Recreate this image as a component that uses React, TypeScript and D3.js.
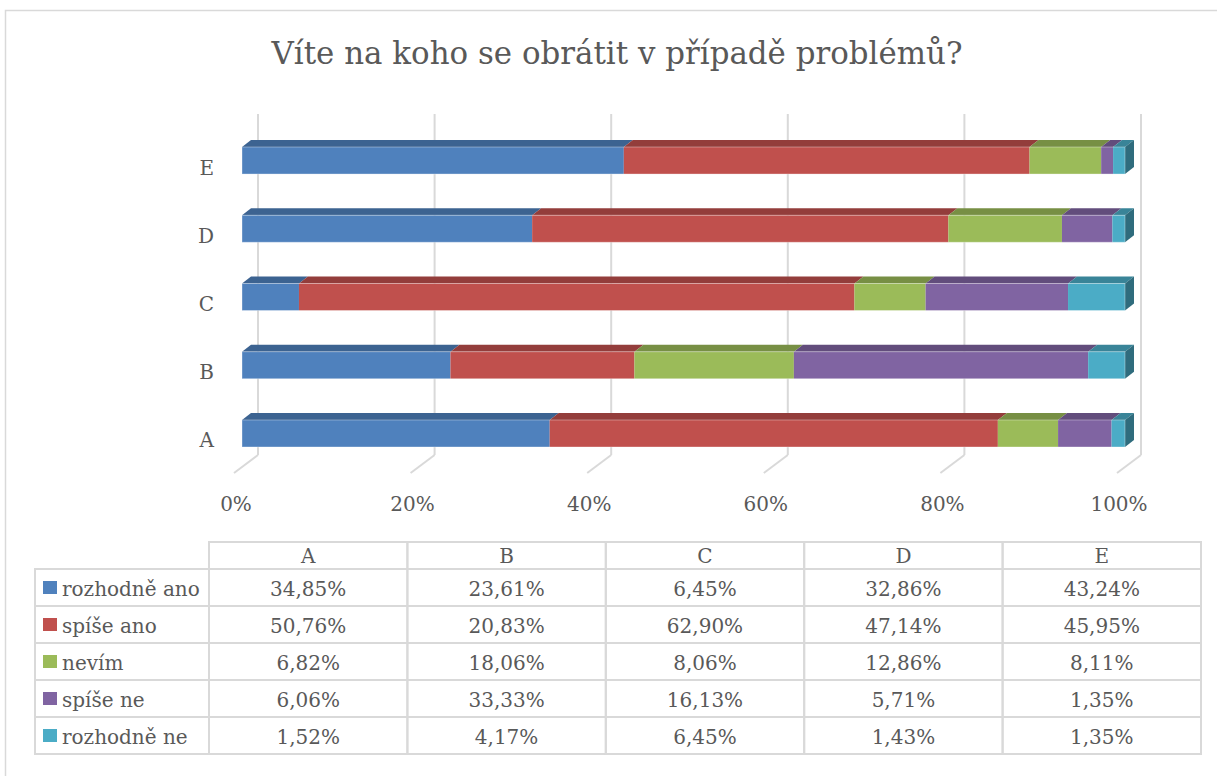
import React from "react"
import * as d3 from "d3"

const title = "Víte na koho se obrátit v případě problémů?"
const categories = ["A", "B", "C", "D", "E"]
const seriesNames = ["rozhodně ano", "spíše ano", "nevím", "spíše ne", "rozhodně ne"]
const seriesColors = ["#4F81BD", "#C0504D", "#9BBB59", "#8064A2", "#4BACC6"]
const rozhodneAno = [34.85, 23.61, 6.45, 32.86, 43.24]
const spiseAno = [50.76, 20.83, 62.9, 47.14, 45.95]
const nevim = [6.82, 18.06, 8.06, 12.86, 8.11]
const spiseNe = [6.06, 33.33, 16.13, 5.71, 1.35]
const rozhodneNe = [1.52, 4.17, 6.45, 1.43, 1.35]
const xTicks = [0, 0.2, 0.4, 0.6, 0.8, 1]

const seriesValues = [rozhodneAno, spiseAno, nevim, spiseNe, rozhodneNe]

const W = 1217
const H = 776
const FONT = "'DejaVu Serif', 'Liberation Serif', serif"
const TEXT = "#595959"
const GRID = "#D9D9D9"

// 3d offsets (bar depth and wall depth)
const barDx = 9
const barDy = -7
const wallDx = 16
const floorDx = -24
const floorDy = 18

const fmt = (v: number) => v.toFixed(2).replace(".", ",") + "%"

const App = () => {
  const rows = categories.map((c, i) => {
    const r: any = { cat: c }
    seriesNames.forEach((s, j) => (r[s] = seriesValues[j][i]))
    return r
  })
  const stacked = d3.stack().keys(seriesNames).offset(d3.stackOffsetExpand)(rows)

  const x = d3.scaleLinear().domain([0, 1]).range([242, 1125])
  const y = d3
    .scaleBand()
    .domain([...categories].reverse())
    .range([126.4, 467.6])
    .paddingInner(0.604)
    .paddingOuter(0.302)
  const bh = y.bandwidth()

  const gridTop = 114
  const gridBottom = 455

  // table layout
  const tLeft = 35
  const tFirst = 209
  const tRight = 1201
  const colW = (tRight - tFirst) / categories.length
  const tTop = 542
  const headH = 27
  const rowH = 37

  const topColor = (c: string) => d3.color(c)!.darker(0.75).formatHex()
  const sideColor = (c: string) => d3.color(c)!.darker(1.3).formatHex()

  return (
    <svg
      width={W}
      height={H}
      style={{ position: "absolute", left: 0, top: 0, display: "block" }}
      fontFamily={FONT}
    >
      <rect x={0} y={0} width={W} height={H} fill="#fff" />
      <rect x={5.5} y={10.5} width={W + 100} height={H + 100} fill="none" stroke={GRID} strokeWidth={1.5} />

      <text x={617} y={64} textAnchor="middle" fontSize={31} fill={TEXT} textLength={691} lengthAdjust="spacingAndGlyphs">
        {title}
      </text>

      {/* back wall gridlines and floor */}
      {xTicks.map((t) => {
        const bx = x(t) + wallDx
        return (
          <g key={"g" + t}>
            <line x1={bx} x2={bx} y1={gridTop} y2={gridBottom} stroke={GRID} strokeWidth={2} />
            <line x1={bx} x2={bx + floorDx} y1={gridBottom} y2={gridBottom + floorDy} stroke={GRID} strokeWidth={2} />
            <text x={bx + floorDx + 2} y={511} textAnchor="middle" fontSize={20} fill={TEXT}>
              {Math.round(t * 100) + "%"}
            </text>
          </g>
        )
      })}

      {/* category labels */}
      {categories.map((c) => (
        <text key={"c" + c} x={214} y={y(c)! + bh / 2 + 14} textAnchor="end" fontSize={20} fill={TEXT}>
          {c}
        </text>
      ))}

      {/* bars */}
      {categories.map((c, i) => {
        const y0 = y(c)!
        return (
          <g key={"b" + c}>
            {stacked.map((s, j) => {
              const x0 = x(s[i][0])
              const x1 = x(s[i][1])
              const col = seriesColors[j]
              const top = `M${x0},${y0} L${x1},${y0} L${x1 + barDx},${y0 + barDy} L${x0 + barDx},${y0 + barDy} Z`
              return (
                <g key={s.key}>
                  <path d={top} fill={topColor(col)} />
                  <rect x={x0} y={y0} width={Math.max(0, x1 - x0)} height={bh} fill={col} />
                </g>
              )
            })}
            {(() => {
              const last = stacked[stacked.length - 1]
              const xe = x(last[i][1])
              const col = seriesColors[stacked.length - 1]
              const side = `M${xe},${y0} L${xe + barDx},${y0 + barDy} L${xe + barDx},${y0 + bh + barDy} L${xe},${y0 + bh} Z`
              return <path d={side} fill={sideColor(col)} />
            })()}
            <rect x={x(0)} y={y0} width={x(1) - x(0)} height={bh} fill="none" stroke="#fff" strokeOpacity={0.35} strokeWidth={1} />
          </g>
        )
      })}

      {/* data table */}
      <g>
        {categories.map((c, i) => (
          <g key={"h" + c}>
            <rect x={tFirst + i * colW} y={tTop} width={colW} height={headH} fill="none" stroke={GRID} strokeWidth={2} />
            <text x={tFirst + i * colW + colW / 2} y={tTop + headH / 2 + 7} textAnchor="middle" fontSize={20} fill={TEXT}>
              {c}
            </text>
          </g>
        ))}
        {seriesNames.map((s, j) => {
          const ry = tTop + headH + j * rowH
          return (
            <g key={"r" + s}>
              <rect x={tLeft} y={ry} width={tFirst - tLeft} height={rowH} fill="none" stroke={GRID} strokeWidth={2} />
              <rect x={43} y={ry + 12} width={14} height={13} fill={seriesColors[j]} />
              <text x={62} y={ry + rowH / 2 + 8} fontSize={20} fill={TEXT}>
                {s}
              </text>
              {categories.map((c, i) => (
                <g key={c}>
                  <rect x={tFirst + i * colW} y={ry} width={colW} height={rowH} fill="none" stroke={GRID} strokeWidth={2} />
                  <text x={tFirst + i * colW + colW / 2} y={ry + rowH / 2 + 8} textAnchor="middle" fontSize={20} fill={TEXT}>
                    {fmt(seriesValues[j][i])}
                  </text>
                </g>
              ))}
            </g>
          )
        })}
      </g>
    </svg>
  )
}

export default App
